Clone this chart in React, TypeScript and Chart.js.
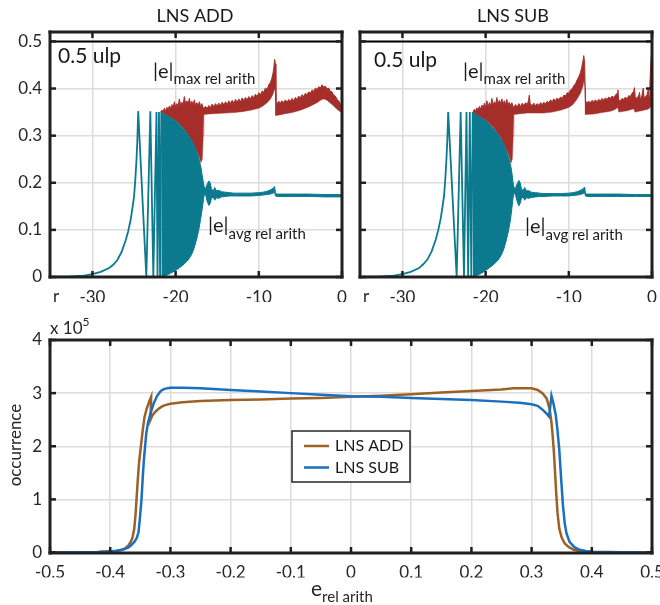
import React, { useEffect, useRef } from "react";
import { Chart, registerables } from "chart.js";

Chart.register(...registerables);

const FONT = "Lato, 'Noto Sans', 'DejaVu Sans', sans-serif";
const INK = "#262626";
const TXT = "#1a1a1a";
const GRID = "#dcdcdc";
const TEAL = "#0B7A8F";
const RED = "#A62E2A";
const BROWN = "#9C6127";
const BLUE = "#1A6FBF";

type Pt = [number, number];

// ---------- top panels ----------
const rRange: Pt = [-35.1, 0];
const errRange: Pt = [0, 0.52];
const rTicks = [-30, -20, -10, 0];
const errTicks = [0, 0.1, 0.2, 0.3, 0.4, 0.5];
const ulpLevel = 0.5;

const addAvgRise: Pt[] = [
  [-35.1, 0], [-34, 0.0005], [-33, 0.001], [-32, 0.002], [-31, 0.003], [-30, 0.006], [-29, 0.011],
  [-28, 0.019], [-27.5, 0.026], [-27, 0.036], [-26.5, 0.053], [-26, 0.078], [-25.7, 0.097],
  [-25.4, 0.122], [-25.2, 0.145], [-25, 0.17], [-24.85, 0.205], [-24.7, 0.25], [-24.6, 0.29],
  [-24.5, 0.352], [-23.52, 0], [-23.04, 0.352], [-22.68, 0], [-22.3, 0.35], [-22.18, 0],
  [-22.0, 0.35], [-21.87, 0], [-21.72, 0.35],
];
const addAvgHi: Pt[] = [
  [-21.72, 0.35], [-21.5, 0.346], [-21.2, 0.344], [-20.8, 0.34], [-20.4, 0.336], [-20.0, 0.331],
  [-19.6, 0.324], [-19.2, 0.317], [-18.8, 0.309], [-18.4, 0.299], [-18.0, 0.287], [-17.7, 0.276],
  [-17.4, 0.262], [-17.15, 0.248], [-16.95, 0.232], [-16.8, 0.215], [-16.65, 0.199], [-16.5, 0.186],
  [-16.35, 0.19], [-16.2, 0.197], [-16.0, 0.204], [-15.85, 0.2], [-15.7, 0.188], [-15.5, 0.182],
  [-15.3, 0.19], [-15.1, 0.183], [-14.8, 0.184], [-14.5, 0.181], [-14.0, 0.18], [-13.5, 0.179],
  [-13.0, 0.178], [-12.0, 0.178], [-11.0, 0.178], [-10.0, 0.179], [-9.5, 0.18], [-9.0, 0.182],
  [-8.6, 0.185], [-8.3, 0.188], [-8.1, 0.192], [-8.0, 0.179], [-7.9, 0.176], [-6.0, 0.176],
  [-4.0, 0.176], [-2.0, 0.175], [0, 0.175],
];
const addAvgLo: Pt[] = [
  [-21.72, 0], [-21.2, 0.003], [-20.6, 0.008], [-20.0, 0.014], [-19.5, 0.02], [-19.0, 0.027],
  [-18.5, 0.036], [-18.1, 0.047], [-17.8, 0.06], [-17.5, 0.078], [-17.25, 0.097], [-17.0, 0.122],
  [-16.8, 0.145], [-16.65, 0.165], [-16.5, 0.18], [-16.35, 0.172], [-16.2, 0.16], [-16.0, 0.152],
  [-15.85, 0.156], [-15.7, 0.166], [-15.5, 0.17], [-15.3, 0.163], [-15.1, 0.168], [-14.8, 0.167],
  [-14.5, 0.17], [-14.0, 0.171], [-13.5, 0.172], [-13.0, 0.172], [-12.0, 0.172], [-11.0, 0.172],
  [-10.0, 0.173], [-9.5, 0.174], [-9.0, 0.175], [-8.6, 0.176], [-8.3, 0.178], [-8.1, 0.18],
  [-8.0, 0.172], [-7.9, 0.171], [-6.0, 0.171], [-4.0, 0.171], [-2.0, 0.17], [0, 0.17],
];
const addMaxHi: Pt[] = [
  [-21.8, 0.35], [-21.65, 0.354], [-21.5, 0.352], [-21.35, 0.358], [-21.2, 0.353], [-21.05, 0.36],
  [-20.9, 0.356], [-20.75, 0.363], [-20.6, 0.357], [-20.45, 0.366], [-20.3, 0.359], [-20.15, 0.372],
  [-20.0, 0.361], [-19.85, 0.368], [-19.7, 0.362], [-19.55, 0.378], [-19.4, 0.364], [-19.25, 0.371],
  [-19.1, 0.365], [-18.95, 0.383], [-18.8, 0.366], [-18.65, 0.374], [-18.5, 0.367], [-18.35, 0.379],
  [-18.2, 0.366], [-18.05, 0.373], [-17.9, 0.365], [-17.75, 0.376], [-17.6, 0.364], [-17.45, 0.37],
  [-17.3, 0.363], [-17.15, 0.372], [-17.0, 0.362], [-16.85, 0.368], [-16.7, 0.36], [-16.6, 0.357],
  [-16.4, 0.362], [-16.2, 0.358], [-16.0, 0.364], [-15.8, 0.36], [-15.6, 0.367], [-15.4, 0.361],
  [-15.2, 0.368], [-15.0, 0.363], [-14.8, 0.369], [-14.6, 0.364], [-14.4, 0.371], [-14.2, 0.365],
  [-14.0, 0.372], [-13.8, 0.366], [-13.6, 0.374], [-13.4, 0.368], [-13.2, 0.375], [-13.0, 0.369],
  [-12.8, 0.377], [-12.6, 0.371], [-12.4, 0.378], [-12.2, 0.372], [-12.0, 0.38], [-11.8, 0.374],
  [-11.6, 0.381], [-11.4, 0.376], [-11.2, 0.383], [-11.0, 0.378], [-10.8, 0.385], [-10.6, 0.38],
  [-10.4, 0.388], [-10.2, 0.383], [-10.0, 0.391], [-9.8, 0.387], [-9.6, 0.395], [-9.4, 0.392],
  [-9.2, 0.401], [-9.0, 0.398], [-8.8, 0.408], [-8.6, 0.413], [-8.45, 0.421], [-8.3, 0.432],
  [-8.2, 0.443], [-8.1, 0.462], [-8.0, 0.452], [-7.95, 0.372], [-7.8, 0.368], [-7.6, 0.373],
  [-7.4, 0.369], [-7.2, 0.374], [-7.0, 0.37], [-6.8, 0.376], [-6.6, 0.371], [-6.4, 0.377],
  [-6.2, 0.373], [-6.0, 0.379], [-5.8, 0.374], [-5.6, 0.381], [-5.4, 0.377], [-5.2, 0.384],
  [-5.0, 0.38], [-4.8, 0.387], [-4.6, 0.383], [-4.4, 0.39], [-4.2, 0.387], [-4.0, 0.393],
  [-3.8, 0.39], [-3.6, 0.397], [-3.4, 0.394], [-3.2, 0.401], [-3.0, 0.398], [-2.8, 0.404],
  [-2.6, 0.401], [-2.4, 0.408], [-2.2, 0.403], [-2.0, 0.405], [-1.8, 0.399], [-1.6, 0.401],
  [-1.4, 0.394], [-1.2, 0.393], [-1.0, 0.386], [-0.8, 0.384], [-0.6, 0.377], [-0.4, 0.374],
  [-0.2, 0.367], [0, 0.364],
];
const addMaxLo: Pt[] = [
  [-21.8, 0.35], [-21.0, 0.342], [-20.0, 0.332], [-19.0, 0.314], [-18.2, 0.294], [-17.6, 0.272],
  [-17.2, 0.256], [-16.95, 0.243], [-16.8, 0.25], [-16.68, 0.3], [-16.6, 0.345], [-16.0, 0.346],
  [-15.0, 0.347], [-14.0, 0.348], [-13.0, 0.349], [-12.0, 0.351], [-11.0, 0.354], [-10.0, 0.358],
  [-9.5, 0.363], [-9.0, 0.37], [-8.6, 0.378], [-8.3, 0.388], [-8.1, 0.4], [-8.0, 0.39],
  [-7.95, 0.343], [-7.5, 0.344], [-7.0, 0.346], [-6.0, 0.349], [-5.0, 0.354], [-4.0, 0.361],
  [-3.0, 0.37], [-2.5, 0.376], [-2.2, 0.378], [-1.8, 0.375], [-1.2, 0.366], [-0.6, 0.356], [0, 0.348],
];

const subAvgRise: Pt[] = [
  [-35.1, 0], [-34, 0.0005], [-33, 0.001], [-32, 0.002], [-31, 0.003], [-30, 0.006], [-29, 0.011],
  [-28, 0.019], [-27.5, 0.027], [-27, 0.037], [-26.5, 0.054], [-26, 0.079], [-25.7, 0.099],
  [-25.4, 0.124], [-25.2, 0.147], [-25, 0.172], [-24.85, 0.207], [-24.7, 0.253], [-24.6, 0.293],
  [-24.5, 0.35], [-23.48, 0], [-23.0, 0.35], [-22.6, 0], [-22.3, 0.35], [-22.1, 0], [-21.9, 0.35],
  [-21.72, 0], [-21.55, 0.35],
];
const subAvgHi: Pt[] = [
  [-21.55, 0.35], [-21.3, 0.346], [-20.9, 0.342], [-20.5, 0.338], [-20.0, 0.332], [-19.6, 0.325],
  [-19.2, 0.318], [-18.8, 0.31], [-18.4, 0.3], [-18.0, 0.288], [-17.7, 0.277], [-17.4, 0.263],
  [-17.15, 0.249], [-16.95, 0.233], [-16.8, 0.216], [-16.7, 0.2], [-16.55, 0.187], [-16.4, 0.19],
  [-16.2, 0.198], [-16.0, 0.205], [-15.85, 0.2], [-15.7, 0.188], [-15.5, 0.183], [-15.3, 0.19],
  [-15.1, 0.183], [-14.8, 0.183], [-14.5, 0.18], [-14.0, 0.179], [-13.5, 0.178], [-13.0, 0.177],
  [-12.0, 0.177], [-11.0, 0.177], [-10.0, 0.178], [-9.5, 0.179], [-9.0, 0.181], [-8.6, 0.184],
  [-8.3, 0.187], [-8.1, 0.191], [-8.0, 0.178], [-7.9, 0.176], [-6.0, 0.176], [-4.0, 0.176],
  [-2.0, 0.175], [0, 0.175],
];
const subAvgLo: Pt[] = [
  [-21.55, 0], [-21.1, 0.003], [-20.5, 0.008], [-20.0, 0.014], [-19.5, 0.02], [-19.0, 0.027],
  [-18.5, 0.036], [-18.1, 0.047], [-17.8, 0.06], [-17.5, 0.079], [-17.25, 0.098], [-17.0, 0.123],
  [-16.85, 0.145], [-16.7, 0.168], [-16.55, 0.181], [-16.4, 0.173], [-16.2, 0.16], [-16.0, 0.151],
  [-15.85, 0.156], [-15.7, 0.166], [-15.5, 0.17], [-15.3, 0.163], [-15.1, 0.168], [-14.8, 0.167],
  [-14.5, 0.169], [-14.0, 0.17], [-13.5, 0.171], [-13.0, 0.171], [-12.0, 0.172], [-11.0, 0.172],
  [-10.0, 0.172], [-9.5, 0.173], [-9.0, 0.174], [-8.6, 0.175], [-8.3, 0.177], [-8.1, 0.179],
  [-8.0, 0.172], [-7.9, 0.171], [-6.0, 0.171], [-4.0, 0.171], [-2.0, 0.171], [0, 0.171],
];
const subMaxHi: Pt[] = [
  [-21.5, 0.35], [-21.35, 0.356], [-21.2, 0.352], [-21.05, 0.359], [-20.9, 0.354], [-20.75, 0.362],
  [-20.6, 0.356], [-20.45, 0.365], [-20.3, 0.358], [-20.15, 0.369], [-20.0, 0.36], [-19.85, 0.374],
  [-19.7, 0.362], [-19.55, 0.37], [-19.4, 0.363], [-19.25, 0.379], [-19.1, 0.365], [-18.95, 0.372],
  [-18.8, 0.366], [-18.65, 0.381], [-18.5, 0.367], [-18.35, 0.375], [-18.2, 0.368], [-18.05, 0.378],
  [-17.9, 0.367], [-17.75, 0.374], [-17.6, 0.366], [-17.45, 0.377], [-17.3, 0.365], [-17.15, 0.371],
  [-17.0, 0.364], [-16.85, 0.37], [-16.7, 0.362], [-16.6, 0.36], [-16.4, 0.366], [-16.2, 0.361],
  [-16.0, 0.368], [-15.8, 0.362], [-15.6, 0.369], [-15.4, 0.364], [-15.2, 0.37], [-15.0, 0.366],
  [-14.85, 0.374], [-14.75, 0.386], [-14.65, 0.368], [-14.4, 0.364], [-14.2, 0.369], [-14.0, 0.363],
  [-13.8, 0.368], [-13.6, 0.364], [-13.4, 0.37], [-13.2, 0.366], [-13.0, 0.371], [-12.8, 0.367],
  [-12.6, 0.373], [-12.4, 0.37], [-12.2, 0.376], [-12.0, 0.372], [-11.8, 0.378], [-11.6, 0.374],
  [-11.4, 0.38], [-11.2, 0.376], [-11.0, 0.382], [-10.8, 0.379], [-10.6, 0.386], [-10.4, 0.384],
  [-10.2, 0.391], [-10.0, 0.39], [-9.8, 0.397], [-9.6, 0.399], [-9.4, 0.406], [-9.2, 0.41],
  [-9.0, 0.418], [-8.8, 0.425], [-8.6, 0.434], [-8.45, 0.445], [-8.3, 0.458], [-8.2, 0.47],
  [-8.1, 0.455], [-8.0, 0.375], [-7.8, 0.369], [-7.6, 0.373], [-7.4, 0.37], [-7.2, 0.375],
  [-7.0, 0.371], [-6.8, 0.376], [-6.6, 0.372], [-6.4, 0.377], [-6.2, 0.374], [-6.0, 0.379],
  [-5.8, 0.375], [-5.6, 0.38], [-5.4, 0.377], [-5.2, 0.382], [-5.0, 0.379], [-4.8, 0.384],
  [-4.6, 0.381], [-4.4, 0.386], [-4.2, 0.39], [-4.1, 0.397], [-4.0, 0.376], [-3.8, 0.374],
  [-3.6, 0.379], [-3.4, 0.377], [-3.2, 0.382], [-3.0, 0.378], [-2.8, 0.385], [-2.6, 0.383],
  [-2.4, 0.39], [-2.2, 0.394], [-2.1, 0.402], [-2.0, 0.378], [-1.8, 0.381], [-1.6, 0.384],
  [-1.5, 0.392], [-1.4, 0.376], [-1.2, 0.386], [-1.05, 0.401], [-0.95, 0.38], [-0.8, 0.383],
  [-0.6, 0.386], [-0.45, 0.398], [-0.35, 0.382], [-0.25, 0.41], [-0.15, 0.45], [-0.05, 0.477],
  [0, 0.46],
];
const subMaxLo: Pt[] = [
  [-21.5, 0.35], [-21.0, 0.343], [-20.0, 0.333], [-19.0, 0.316], [-18.2, 0.296], [-17.6, 0.274],
  [-17.2, 0.258], [-16.95, 0.242], [-16.8, 0.25], [-16.68, 0.3], [-16.6, 0.345], [-15.0, 0.348],
  [-13.0, 0.348], [-12.0, 0.35], [-11.0, 0.354], [-10.0, 0.36], [-9.5, 0.366], [-9.0, 0.378],
  [-8.6, 0.39], [-8.3, 0.405], [-8.15, 0.42], [-8.05, 0.4], [-8.0, 0.345], [-7.0, 0.346],
  [-6.0, 0.349], [-5.0, 0.352], [-4.5, 0.355], [-4.1, 0.36], [-4.0, 0.35], [-3.0, 0.353],
  [-2.2, 0.357], [-2.05, 0.35], [-1.0, 0.354], [-0.5, 0.356], [-0.2, 0.36], [0, 0.37],
];

// ---------- bottom panel ----------
const eRange: Pt = [-0.5, 0.5];
const occRange: Pt = [0, 4];
const eTicks = [-0.5, -0.4, -0.3, -0.2, -0.1, 0, 0.1, 0.2, 0.3, 0.4, 0.5];
const occTicks = [0, 1, 2, 3, 4];
const occExponent = 5;

const addHist: Pt[] = [
  [-0.5, 0], [-0.45, 0.003], [-0.42, 0.01], [-0.4, 0.02], [-0.39, 0.03], [-0.38, 0.05],
  [-0.375, 0.08], [-0.37, 0.13], [-0.366, 0.2], [-0.363, 0.28], [-0.36, 0.45], [-0.358, 0.7],
  [-0.356, 1.05], [-0.354, 1.4], [-0.352, 1.7], [-0.349, 2.0], [-0.346, 2.3], [-0.343, 2.55],
  [-0.339, 2.72], [-0.335, 2.85], [-0.332, 2.93], [-0.333, 2.5], [-0.33, 2.58], [-0.325, 2.65],
  [-0.32, 2.7], [-0.315, 2.74], [-0.31, 2.77], [-0.3, 2.8], [-0.28, 2.83], [-0.25, 2.85],
  [-0.2, 2.87], [-0.15, 2.88], [-0.1, 2.9], [-0.05, 2.91], [0, 2.93], [0.05, 2.95], [0.1, 2.98],
  [0.15, 3.01], [0.2, 3.04], [0.25, 3.07], [0.27, 3.09], [0.3, 3.09], [0.31, 3.06], [0.318, 3.0],
  [0.325, 2.9], [0.33, 2.7], [0.333, 2.45], [0.335, 2.2], [0.337, 1.9], [0.339, 1.5], [0.341, 1.1],
  [0.343, 0.75], [0.346, 0.45], [0.35, 0.28], [0.355, 0.17], [0.362, 0.1], [0.37, 0.05],
  [0.38, 0.025], [0.4, 0.01], [0.45, 0.002], [0.5, 0],
];
const subHist: Pt[] = [
  [-0.5, 0], [-0.45, 0.003], [-0.42, 0.01], [-0.4, 0.025], [-0.39, 0.035], [-0.38, 0.05],
  [-0.37, 0.09], [-0.365, 0.14], [-0.36, 0.2], [-0.356, 0.27], [-0.353, 0.38], [-0.351, 0.6],
  [-0.348, 1.0], [-0.346, 1.4], [-0.344, 1.75], [-0.342, 2.0], [-0.34, 2.25], [-0.337, 2.45],
  [-0.333, 2.62], [-0.328, 2.8], [-0.322, 2.95], [-0.316, 3.04], [-0.31, 3.08], [-0.3, 3.1],
  [-0.28, 3.1], [-0.25, 3.09], [-0.2, 3.06], [-0.15, 3.03], [-0.1, 3.0], [-0.05, 2.97], [0, 2.94],
  [0.05, 2.93], [0.1, 2.91], [0.15, 2.89], [0.2, 2.87], [0.25, 2.84], [0.28, 2.82], [0.3, 2.79],
  [0.31, 2.76], [0.319, 2.68], [0.326, 2.6], [0.329, 2.56], [0.331, 2.75], [0.333, 2.95],
  [0.336, 2.82], [0.34, 2.6], [0.343, 2.3], [0.346, 1.93], [0.349, 1.4], [0.352, 0.9],
  [0.355, 0.55], [0.358, 0.36], [0.363, 0.2], [0.371, 0.1], [0.38, 0.05], [0.39, 0.03],
  [0.4, 0.015], [0.45, 0.003], [0.5, 0],
];

// ---------- helpers ----------
const toXY = (a: Pt[]) => a.map(([x, y]) => ({ x, y }));

type Part = { t: string; size: number; dy?: number };
function rich(ctx: CanvasRenderingContext2D, x: number, y: number, parts: Part[], color = TXT) {
  ctx.save();
  ctx.fillStyle = color;
  ctx.textBaseline = "middle";
  ctx.textAlign = "left";
  let cx = x;
  for (const p of parts) {
    ctx.font = `${p.size}px ${FONT}`;
    ctx.fillText(p.t, cx, y + (p.dy || 0));
    cx += ctx.measureText(p.t).width;
  }
  ctx.restore();
}

function frame(chart: any) {
  const ctx = chart.ctx as CanvasRenderingContext2D;
  const a = chart.chartArea;
  const xs = chart.scales.x;
  const ys = chart.scales.y;
  const tl = 6;
  const L = Math.round(a.left), R = Math.round(a.right), T = Math.round(a.top), B = Math.round(a.bottom);
  ctx.save();
  ctx.setLineDash([]);
  ctx.globalAlpha = 1;
  ctx.globalCompositeOperation = "source-over";
  ctx.fillStyle = "#202020";
  const w = 3;
  // box as filled bars
  ctx.fillRect(L - w / 2, T - w / 2, R - L + w, w);
  ctx.fillRect(L - w / 2, B - w / 2, R - L + w, w);
  ctx.fillRect(L - w / 2, T - w / 2, w, B - T + w);
  ctx.fillRect(R - w / 2, T - w / 2, w, B - T + w);
  // inward ticks
  xs.ticks.forEach((t: any) => {
    const p = xs.getPixelForValue(t.value);
    ctx.fillRect(p - 1.25, B - tl, 2.5, tl);
    ctx.fillRect(p - 1.25, T, 2.5, tl);
  });
  ys.ticks.forEach((t: any) => {
    const p = ys.getPixelForValue(t.value);
    ctx.fillRect(L, p - 1.25, tl, 2.5);
    ctx.fillRect(R - tl, p - 1.25, tl, 2.5);
  });
  ctx.restore();
}

function axis(range: Pt, ticks: number[], horizontal: boolean, showLabels: boolean, size: number) {
  return {
    type: "linear",
    min: range[0],
    max: range[1],
    afterBuildTicks: (s: any) => {
      s.ticks = ticks.map((v) => ({ value: v }));
    },
    afterFit: (s: any) => {
      if (horizontal) s.height = size;
      else s.width = size;
      s.paddingLeft = 0;
      s.paddingRight = 0;
      s.paddingTop = 0;
      s.paddingBottom = 0;
    },
    grid: { color: GRID, lineWidth: 1.5, drawTicks: false },
    border: { display: false },
    ticks: {
      display: showLabels,
      padding: horizontal ? 10 : 8,
      color: INK,
      font: { family: FONT, size: 17 },
      maxRotation: 0,
      autoSkip: false,
      callback: (v: any) => String(v),
    },
  };
}

type TopText = {
  title: string;
  titleX: number;
  ulpX: number;
  ulpY: number;
  maxX: number;
  maxY: number;
  avgX: number;
  avgY: number;
};

function topConfig(
  rise: Pt[],
  avgHi: Pt[],
  avgLo: Pt[],
  maxHi: Pt[],
  maxLo: Pt[],
  showY: boolean,
  txt: TopText
) {
  const ulpLine: Pt[] = [
    [rRange[0], ulpLevel],
    [rRange[1], ulpLevel],
  ];
  return {
    type: "line",
    data: {
      datasets: [
        { label: "0.5 ulp", data: toXY(ulpLine), borderColor: "#000", borderWidth: 2, fill: false, order: 0 },
        { label: "avg", data: toXY(rise), borderColor: TEAL, borderWidth: 1.8, fill: false, order: 1 },
        { label: "avg hi", data: toXY(avgHi), borderColor: TEAL, backgroundColor: TEAL, borderWidth: 1, fill: "+1", order: 2 },
        { label: "avg lo", data: toXY(avgLo), borderColor: TEAL, borderWidth: 1, fill: false, order: 3 },
        { label: "max hi", data: toXY(maxHi), borderColor: RED, backgroundColor: RED, borderWidth: 1, fill: "+1", order: 4 },
        { label: "max lo", data: toXY(maxLo), borderColor: RED, borderWidth: 0.5, fill: false, order: 5 },
      ],
    },
    options: {
      responsive: false,
      animation: false,
      devicePixelRatio: 1,
      events: [],
      layout: { padding: { left: 0, right: 8, top: 32, bottom: 10 } },
      elements: { point: { radius: 0 }, line: { tension: 0 } },
      plugins: { legend: { display: false }, tooltip: { enabled: false }, title: { display: false } },
      scales: {
        x: axis(rRange, rTicks, true, true, 25),
        y: axis(errRange, errTicks, false, showY, 50),
      },
    },
    plugins: [
      {
        id: "deco",
        afterDraw(chart: any) {
          frame(chart);
          const ctx = chart.ctx as CanvasRenderingContext2D;
          const a = chart.chartArea;
          rich(ctx, txt.ulpX, txt.ulpY, [{ t: `${ulpLevel} ulp`, size: 21 }]);
          rich(ctx, txt.maxX, txt.maxY, [
            { t: "|e|", size: 20 },
            { t: "max rel arith", size: 15, dy: 7 },
          ]);
          rich(ctx, txt.avgX, txt.avgY, [
            { t: "|e|", size: 20 },
            { t: "avg rel arith", size: 15, dy: 8 },
          ]);
          rich(ctx, a.left + 3, a.bottom + 20, [{ t: "r", size: 17 }], INK);
          ctx.save();
          ctx.font = `18px ${FONT}`;
          ctx.textAlign = "center";
          ctx.textBaseline = "middle";
          ctx.fillStyle = TXT;
          ctx.fillText(txt.title, txt.titleX, 16);
          ctx.restore();
        },
      },
    ],
  };
}

function bottomConfig() {
  return {
    type: "line",
    data: {
      datasets: [
        { label: "LNS ADD", data: toXY(addHist), borderColor: BROWN, borderWidth: 2.5, fill: false, order: 1 },
        { label: "LNS SUB", data: toXY(subHist), borderColor: BLUE, borderWidth: 2.5, fill: false, order: 0 },
      ],
    },
    options: {
      responsive: false,
      animation: false,
      devicePixelRatio: 1,
      events: [],
      layout: { padding: { left: 0, right: 8, top: 28, bottom: 27.5 } },
      elements: { point: { radius: 0 }, line: { tension: 0 } },
      plugins: { legend: { display: false }, tooltip: { enabled: false }, title: { display: false } },
      scales: {
        x: axis(eRange, eTicks, true, true, 25),
        y: axis(occRange, occTicks, false, true, 50),
      },
    },
    plugins: [
      {
        id: "deco2",
        afterDraw(chart: any) {
          frame(chart);
          const ctx = chart.ctx as CanvasRenderingContext2D;
          rich(ctx, 50, 17, [
            { t: "x 10", size: 17 },
            { t: String(occExponent), size: 12, dy: -7 },
          ], INK);
          ctx.save();
          ctx.translate(16, 133);
          ctx.rotate(-Math.PI / 2);
          ctx.font = `17px ${FONT}`;
          ctx.fillStyle = INK;
          ctx.textAlign = "center";
          ctx.textBaseline = "middle";
          ctx.fillText("occurrence", 0, 0);
          ctx.restore();
          rich(ctx, 311, 277, [
            { t: "e", size: 21 },
            { t: "rel arith", size: 15, dy: 8 },
          ], INK);
          const bx = 292, by = 119, bw = 118, bh = 51;
          ctx.save();
          ctx.fillStyle = "#fff";
          ctx.fillRect(bx, by, bw, bh);
          ctx.strokeStyle = INK;
          ctx.lineWidth = 1.5;
          ctx.strokeRect(bx, by, bw, bh);
          const ds = chart.data.datasets;
          const rows = [134, 155.5];
          ds.forEach((d: any, i: number) => {
            ctx.strokeStyle = d.borderColor;
            ctx.lineWidth = 2.5;
            ctx.beginPath();
            ctx.moveTo(304, rows[i]);
            ctx.lineTo(329, rows[i]);
            ctx.stroke();
            ctx.fillStyle = TXT;
            ctx.font = `16px ${FONT}`;
            ctx.textAlign = "left";
            ctx.textBaseline = "middle";
            ctx.fillText(d.label, 335, rows[i]);
          });
          ctx.restore();
        },
      },
    ],
  };
}

function ChartCanvas(props: { make: () => any; left: number; top: number; width: number; height: number }) {
  const ref = useRef<HTMLCanvasElement>(null);
  useEffect(() => {
    const c = new Chart(ref.current as HTMLCanvasElement, props.make());
    return () => c.destroy();
  }, []);
  return (
    <canvas
      ref={ref}
      width={props.width}
      height={props.height}
      style={{ position: "absolute", left: props.left, top: props.top, width: props.width, height: props.height }}
    />
  );
}

export default function App() {
  return (
    <div style={{ position: "fixed", left: 0, top: 0, width: 660, height: 605, background: "#fff", overflow: "hidden" }}>
      <ChartCanvas
        left={0}
        top={0}
        width={350}
        height={312}
        make={() =>
          topConfig(addAvgRise, addAvgHi, addAvgLo, addMaxHi, addMaxLo, true, {
            title: "LNS ADD",
            titleX: 195,
            ulpX: 58,
            ulpY: 56,
            maxX: 153,
            maxY: 72,
            avgX: 208,
            avgY: 226,
          })
        }
      />
      <ChartCanvas
        left={310}
        top={0}
        width={350}
        height={312}
        make={() =>
          topConfig(subAvgRise, subAvgHi, subAvgLo, subMaxHi, subMaxLo, false, {
            title: "LNS SUB",
            titleX: 203,
            ulpX: 64,
            ulpY: 60,
            maxX: 153,
            maxY: 72,
            avgX: 215,
            avgY: 227,
          })
        }
      />
      <ChartCanvas left={0} top={312} width={660} height={293} make={bottomConfig} />
    </div>
  );
}
